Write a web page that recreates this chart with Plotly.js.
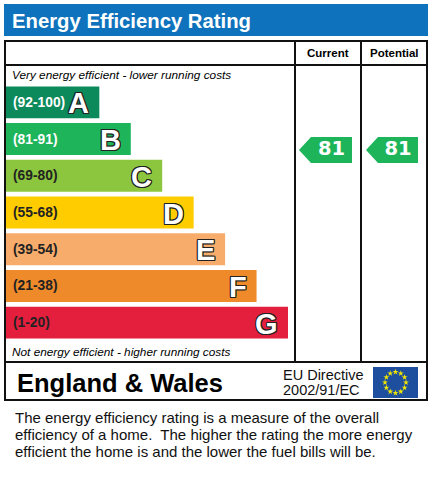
<!DOCTYPE html>
<html><head><meta charset="utf-8">
<script src="https://cdn.plot.ly/plotly-3.0.1.min.js"></script>
<style>html,body{margin:0;padding:0;background:#fff;overflow:hidden}</style>
</head><body>
<div id="chart" style="width:432px;height:480px"></div>
<script>
// ---- data ----
const bandLetters = ['A','B','C','D','E','F','G'];
const bandRanges = ['(92-100)','(81-91)','(69-80)','(55-68)','(39-54)','(21-38)','(1-20)'];
const bandMin = [92,81,69,55,39,21,1];
const bandMax = [100,91,80,68,54,38,20];
const bandLength = [3,4,5,6,7,8,9];
const bandColors = ['#0c8a5b','#1db45a','#8cc63f','#ffcc00','#f7ac6b','#ef8a2b','#e41f3d'];
const rangeTextColors = ['#ffffff','#ffffff','#222222','#222222','#222222','#222222','#222222'];
const columnLabels = ['Current','Potential'];
const ratings = [81, 81];
const chartTitle = 'Energy Efficiency Rating';
const topNote = 'Very energy efficient - lower running costs';
const bottomNote = 'Not energy efficient - higher running costs';
const regionLabel = 'England & Wales';
const directiveLines = ['EU Directive','2002/91/EC'];
const footerLines = [
  'The energy efficiency rating is a measure of the overall',
  'efficiency of a home.  The higher the rating the more energy',
  'efficient the home is and the lower the fuel bills will be.'
];

// ---- layout constants (pixels) ----
const W = 432, H = 480;
const FONT = 'Liberation Sans, Arial, sans-serif';
const bandTop = 84, bandBottom = 341;
const colX = [[299, 311, 352], [366, 378, 418]]; // tip, shoulder, right
const arrowHalf = 0.355; // in band units

const traces = [];

// bars
traces.push({
  type: 'bar', orientation: 'h',
  y: bandLetters, x: bandLength,
  marker: {color: bandColors, line: {width: 0}},
  xaxis: 'x', yaxis: 'y',
  hoverinfo: 'skip', showlegend: false
});

// rating arrows
ratings.forEach((v, c) => {
  const idx = bandMin.findIndex((m, i) => v >= m && v <= bandMax[i]);
  const yc = idx + 0.3 * (bandMax[idx] - v) / (bandMax[idx] - bandMin[idx]);
  const [xt, xs, xr] = colX[c];
  traces.push({
    type: 'scatter', mode: 'lines',
    x: [xt, xs, xr, xr, xs, xt],
    y: [yc, yc - arrowHalf, yc - arrowHalf, yc + arrowHalf, yc + arrowHalf, yc],
    fill: 'toself', fillcolor: bandColors[idx], line: {width: 0, color: bandColors[idx]},
    xaxis: 'x2', yaxis: 'y2', hoverinfo: 'skip', showlegend: false
  });
  traces.push({
    type: 'scatter', mode: 'text',
    x: [(xs + xr) / 2], y: [yc], text: [String(v)],
    textposition: 'middle center',
    textfont: {family: 'DejaVu Sans', size: 19.5, color: '#ffffff', weight: 'bold'},
    xaxis: 'x2', yaxis: 'y2', hoverinfo: 'skip', showlegend: false
  });
});

// EU flag stars
const starX = [], starY = [];
for (let k = 0; k < 12; k++) {
  const a = k * Math.PI / 6;
  starX.push(395.5 + 10.5 * Math.cos(a));
  starY.push(382.5 + 10.5 * Math.sin(a));
}
traces.push({
  type: 'scatter', mode: 'markers', x: starX, y: starY,
  marker: {symbol: 'star', size: 4.5, color: '#f2e600', line: {width: 0}},
  xaxis: 'x2', yaxis: 'y3', hoverinfo: 'skip', showlegend: false
});

const ann = [];
// band labels and letters
bandLetters.forEach((L, i) => {
  ann.push({xref: 'x', yref: 'y', x: 0, y: L, xanchor: 'left', yanchor: 'middle', xshift: 6,
    text: bandRanges[i], showarrow: false,
    font: {family: FONT, size: 13.8, color: rangeTextColors[i], weight: 'bold'}});
  ann.push({xref: 'x', yref: 'y', x: bandLength[i], y: L, xanchor: 'right', yanchor: 'middle', xshift: -8, yshift: -1,
    text: L, showarrow: false,
    font: {family: FONT, size: 29, color: '#ffffff', weight: 'bold',
      shadow: '-1px -1px 0 #222, 1px -1px 0 #222, -1px 1px 0 #222, 1px 1px 0 #222, 0 1px 0 #222, 0 -1px 0 #222, 1px 0 0 #222, -1px 0 0 #222'}});
});
function px(x, y, text, font, xanchor) {
  ann.push({xref: 'x2', yref: 'y3', x: x, y: y, xanchor: xanchor || 'left', yanchor: 'middle',
    text: text, showarrow: false, borderpad: 0, font: Object.assign({family: FONT, color: '#000'}, font)});
}
px(11, 20.5, chartTitle, {size: 20.3, color: '#ffffff', weight: 'bold'});
px(328, 53, columnLabels[0], {size: 11.5, weight: 'bold'}, 'center');
px(394, 53, columnLabels[1], {size: 11.5, weight: 'bold'}, 'center');
px(11, 75, topNote, {size: 11.8, style: 'italic'});
px(11, 352, bottomNote, {size: 11.8, style: 'italic'});
px(16, 383, regionLabel, {size: 25.5, weight: 'bold'});
px(282, 375, directiveLines[0], {size: 14.5, color: '#111'});
px(282, 389.5, directiveLines[1], {size: 14.5, color: '#111'});
footerLines.forEach((t, i) => px(14, 417 + i * 17, t, {size: 15, color: '#111'}));

const lineStyle = {color: '#111', width: 2};
const shapes = [
  {type: 'rect', xref: 'x2', yref: 'y3', x0: 4, x1: 428, y0: 4, y1: 36, fillcolor: '#0f72bc', line: {width: 0}, layer: 'below'},
  {type: 'rect', xref: 'x2', yref: 'y3', x0: 5, x1: 427, y0: 41, y1: 362, line: lineStyle},
  {type: 'line', xref: 'x2', yref: 'y3', x0: 5, x1: 427, y0: 65, y1: 65, line: lineStyle},
  {type: 'line', xref: 'x2', yref: 'y3', x0: 295, x1: 295, y0: 41, y1: 362, line: lineStyle},
  {type: 'line', xref: 'x2', yref: 'y3', x0: 361, x1: 361, y0: 41, y1: 362, line: lineStyle},
  {type: 'rect', xref: 'x2', yref: 'y3', x0: 5, x1: 427, y0: 362, y1: 400, line: lineStyle},
  {type: 'rect', xref: 'x2', yref: 'y3', x0: 373, x1: 418, y0: 367, y1: 398, fillcolor: '#1d4f9e', line: {width: 0}, layer: 'below'}
];

const hid = {visible: false, showgrid: false, zeroline: false, fixedrange: true};
const layout = {
  width: W, height: H, margin: {l: 0, r: 0, t: 0, b: 0, pad: 0},
  paper_bgcolor: '#ffffff', plot_bgcolor: 'rgba(0,0,0,0)',
  showlegend: false, bargap: 0.13,
  xaxis: Object.assign({}, hid, {domain: [5 / W, 288 / W], range: [0, 9], anchor: 'y'}),
  yaxis: Object.assign({}, hid, {domain: [1 - bandBottom / H, 1 - bandTop / H], type: 'category',
    categoryorder: 'array', categoryarray: bandLetters, range: [6.5, -0.5], anchor: 'x'}),
  xaxis2: Object.assign({}, hid, {domain: [0, 1], range: [0, W], anchor: 'y3'}),
  yaxis2: Object.assign({}, hid, {domain: [1 - bandBottom / H, 1 - bandTop / H], range: [6.5, -0.5], anchor: 'x2'}),
  yaxis3: Object.assign({}, hid, {domain: [0, 1], range: [H, 0], anchor: 'x2'}),
  shapes: shapes, annotations: ann
};
Plotly.newPlot('chart', traces, layout, {staticPlot: true, displayModeBar: false});
</script>
</body></html>
